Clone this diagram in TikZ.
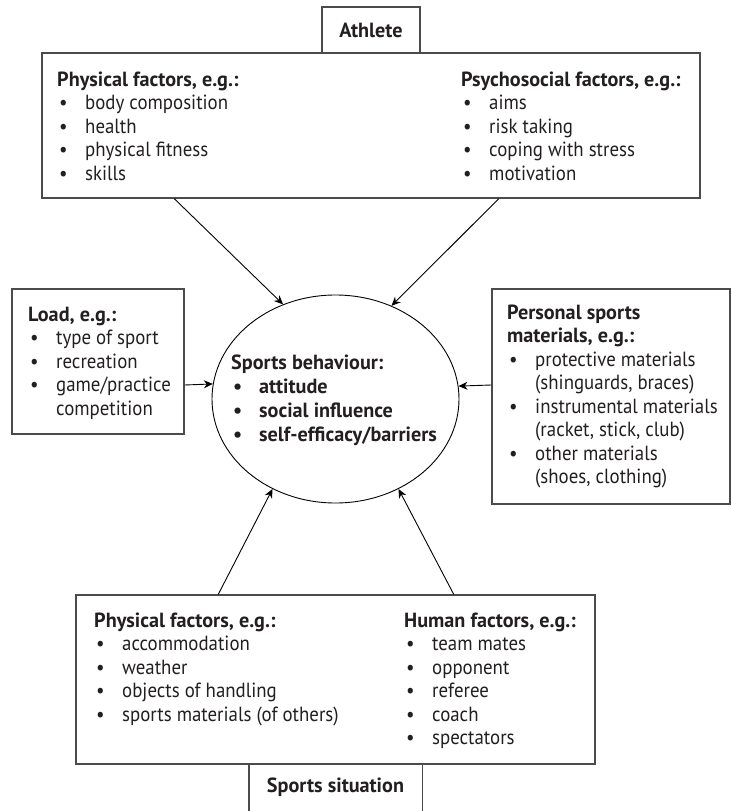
\documentclass[tikz,border=0pt]{standalone}
\usepackage{fontspec}
\setmainfont{PT Sans}[FakeStretch=0.92,BoldFeatures={FakeStretch=0.985}]
\usetikzlibrary{arrows.meta,calc,shapes.geometric}
\definecolor{ink}{RGB}{35,31,32}
\definecolor{frame}{RGB}{75,75,75}
\newcommand\bl{\hspace{2pt}\textbullet}
\newcommand\hdr[1]{\multicolumn{2}{@{}l@{}}{\textbf{#1}}}
\newenvironment{col}{\begin{tabular}[t]{@{}p{28pt}@{}l@{}}}{\end{tabular}}
\begin{document}
\begin{tikzpicture}[x=1pt,y=-1pt,
  box/.style={draw=frame,line width=1.4pt,rectangle,inner sep=0pt},
  txt/.style={anchor=base west,inner sep=0pt,text=ink,font=\fontsize{20.5}{23.5}\selectfont},
  lbl/.style={inner sep=0pt,text=ink,font=\fontsize{20.5}{23.5}\selectfont\bfseries},
  arr/.style={draw=black,line width=0.9pt,-{Stealth[length=9pt,width=8pt]}}]
\useasboundingbox (0,0) rectangle (731,811);
\fill[white] (0,0) rectangle (731,811);

% Athlete
\node[box,lbl,minimum width=98pt,minimum height=46pt] (athlete) at (371,30) {Athlete};
\node[box,minimum width=658pt,minimum height=145pt] (top) at (371,125.5) {};
\node[txt] (topL) at (57,86) {\begin{col}\hdr{Physical factors, e.g.:}\\
 \bl & body composition\\ \bl & health\\ \bl & physical fitness\\ \bl & skills\end{col}};
\node[txt] (topR) at (461,86) {\begin{col}\hdr{Psychosocial factors, e.g.:}\\
 \bl & aims\\ \bl & risk taking\\ \bl & coping with stress\\ \bl & motivation\end{col}};

% Load
\node[box,minimum width=172pt,minimum height=145pt] (load) at (98,361.5) {};
\node[txt] (loadT) at (28,321) {\begin{col}\hdr{Load, e.g.:}\\
 \bl & type of sport\\ \bl & recreation\\ \bl & game/practice\\ & competition\end{col}};

% Personal sports materials
\node[box,minimum width=238pt,minimum height=215pt] (pers) at (611,396.5) {};
\node[txt] (persT) at (507,319) {\begin{col}\hdr{Personal sports}\\ \hdr{materials, e.g.:}\\
 \bl & protective materials\\ & (shinguards, braces)\\ \bl & instrumental materials\\
 & (racket, stick, club)\\ \bl & other materials\\ & (shoes, clothing)\end{col}};

% Sports behaviour
\node[draw=black,line width=0.9pt,ellipse,minimum width=247pt,minimum height=208pt,inner sep=0pt] (sb) at (335.5,399) {};
\node[txt,font=\fontsize{20.5}{24}\selectfont\bfseries] (sbT) at (231,369) {\begin{col}\hdr{Sports behaviour:}\\
 \bl & attitude\\ \bl & social influence\\ \bl & self-efficacy/barriers\end{col}};

% Sports situation
\node[box,minimum width=519pt,minimum height=169pt] (bot) at (335.5,679.5) {};
\node[txt] (botL) at (94,627) {\begin{col}\hdr{Physical factors, e.g.:}\\
 \bl & accommodation\\ \bl & weather\\ \bl & objects of handling\\ \bl & sports materials (of others)\end{col}};
\node[txt] (botR) at (404,627) {\begin{col}\hdr{Human factors, e.g.:}\\
 \bl & team mates\\ \bl & opponent\\ \bl & referee\\ \bl & coach\\ \bl & spectators\end{col}};
\node[lbl,minimum width=173pt,minimum height=47pt] (sit) at (335.5,787.5) {Sports situation};
\draw[frame,line width=1.4pt] (sit.south west) -- (sit.north west) -- (sit.north east) -- (sit.south east);

% Arrows
\draw[arr] ($(top.south west)+(133,0)$) -- (sb.119.6);
\draw[arr] ($(top.south east)+(-202,0)$) -- (sb.59.4);
\draw[arr] ($(load.east)+(0,23.5)$) -- (sb.173.5);
\draw[arr] ($(pers.west)+(0,-11.5)$) -- (sb.6.5);
\draw[arr] ($(bot.north west)+(143,0)$) -- (sb.235.2);
\draw[arr] ($(bot.north east)+(-142,0)$) -- (sb.305.2);
\end{tikzpicture}
\end{document}
